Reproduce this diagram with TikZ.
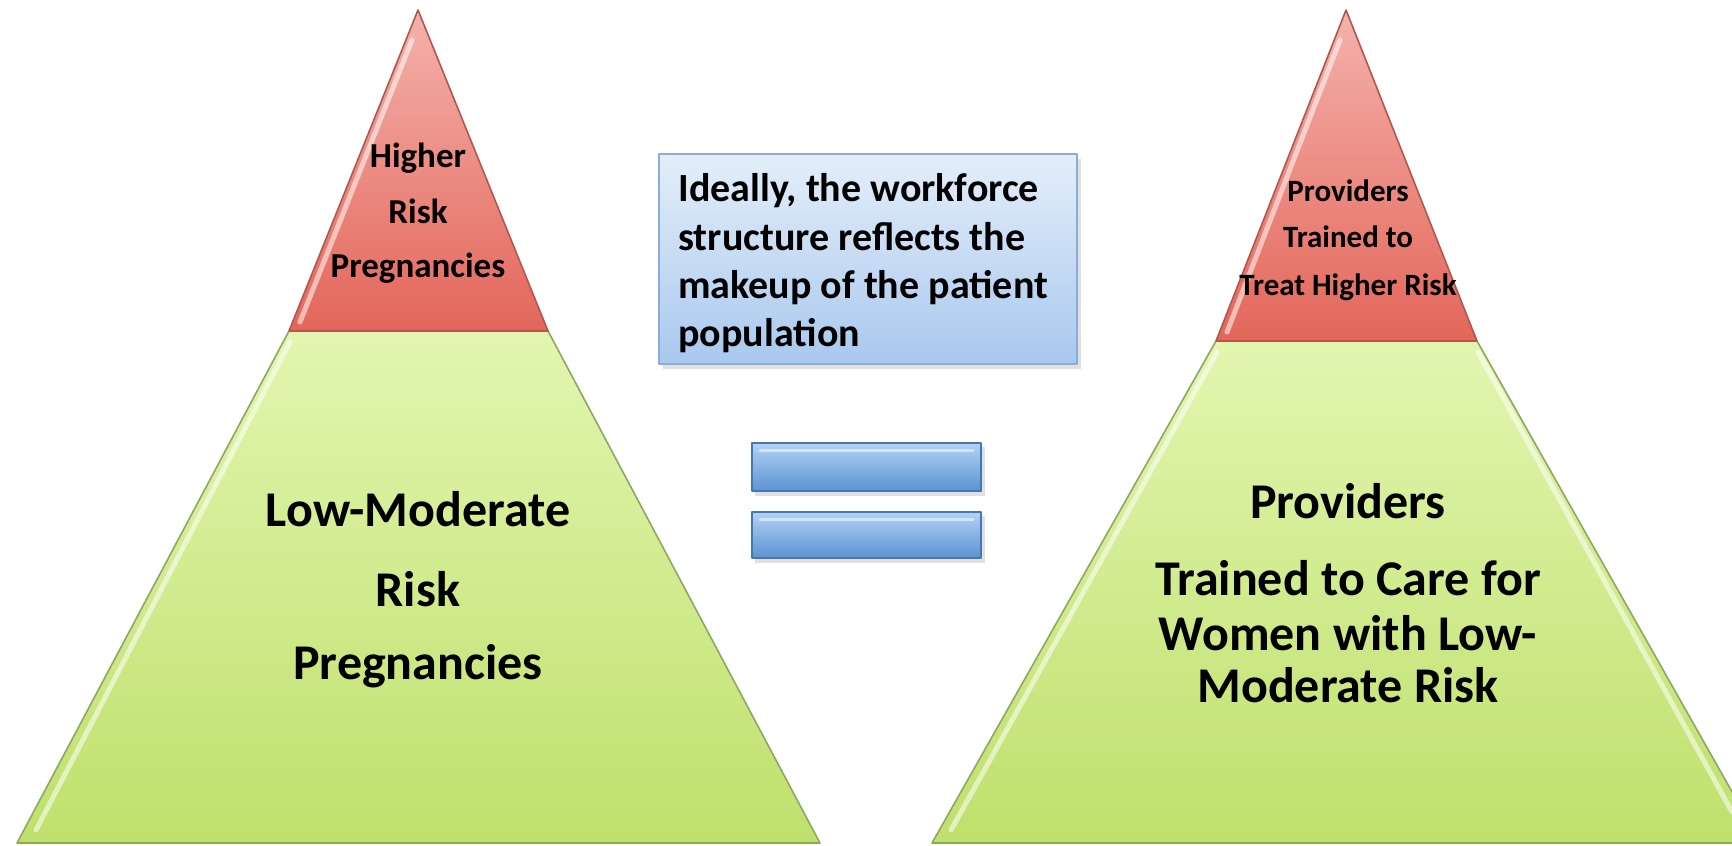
\documentclass[tikz,border=0pt]{standalone}
\usepackage{fontspec}
\setmainfont{Carlito}

\definecolor{redtop}{HTML}{F4B2AC}
\definecolor{redbot}{HTML}{E3665A}
\definecolor{redline}{HTML}{B0574E}
\definecolor{greentop}{HTML}{E2F6B0}
\definecolor{greenbot}{HTML}{BFE06C}
\definecolor{greenline}{HTML}{8FA861}
\definecolor{boxtop}{HTML}{E4EEFA}
\definecolor{boxbot}{HTML}{A9C8EE}
\definecolor{boxline}{HTML}{8AADD6}
\definecolor{bartop}{HTML}{B3D2F4}
\definecolor{barbot}{HTML}{5B93D3}
\definecolor{barline}{HTML}{4677B0}

\tikzset{
  redpart/.style={top color=redtop,bottom color=redbot,draw=redline,line width=0.8pt},
  greenpart/.style={top color=greentop,bottom color=greenbot,draw=greenline,line width=0.8pt},
  bevel/.style={white,opacity=0.55,line width=2.5pt,line cap=round},
  redtxt/.style={font=\fontsize{17.5}{20}\selectfont\bfseries,anchor=base,inner sep=0pt},
  smtxt/.style={font=\fontsize{15.5}{18}\selectfont\bfseries,anchor=base,inner sep=0pt},
  bigtxt/.style={font=\fontsize{25}{28}\selectfont\bfseries,anchor=base,inner sep=0pt},
  boxtxt/.style={font=\fontsize{20}{24}\selectfont\bfseries,anchor=base west,inner sep=0pt},
  eqbar/.style={top color=bartop,bottom color=barbot,draw=barline,line width=0.8pt},
  shadow/.style={fill=black,opacity=0.12}
}

\begin{document}
\begin{tikzpicture}[x=0.5pt,y=-0.5pt,line join=round]
\useasboundingbox (0,0) rectangle (1732,845);
\clip (0,0) rectangle (1732,845);

% left pyramid: patients
\path[greenpart] (289,331) -- (548,331) -- (820,843) -- (17,843) -- cycle;
\path[redpart] (418,10) -- (548,331) -- (289,331) -- cycle;
\draw[bevel] (300,322) -- (412,40);
\draw[bevel] (290,342) -- (36,830);

\node[redtxt] (lhA) at (418,168) {Higher};
\node[redtxt] (lhB) at (418,223) {Risk};
\node[redtxt] (lhC) at (418,277) {Pregnancies};

\node[bigtxt] (llA) at (418,526) {Low-Moderate};
\node[bigtxt] (llB) at (418,606) {Risk};
\node[bigtxt] (llC) at (418,679) {Pregnancies};

% right pyramid: providers
\path[greenpart] (1216,341) -- (1477,341) -- (1761,843) -- (932,843) -- cycle;
\path[redpart] (1346,10) -- (1477,341) -- (1216,341) -- cycle;
\draw[bevel] (1227,332) -- (1340,40);
\draw[bevel] (1217,352) -- (951,830);
\draw[bevel] (1478,352) -- (1732,812);

\node[smtxt] (rhA) at (1348,202) {Providers};
\node[smtxt] (rhB) at (1348,248) {Trained to};
\node[smtxt] (rhC) at (1348,295) {Treat Higher Risk};

\node[bigtxt] (rlA) at (1348,518) {Providers};
\node[bigtxt] (rlB) at (1348,595) {Trained to Care for};
\node[bigtxt] (rlC) at (1348,650) {Women with Low-};
\node[bigtxt] (rlD) at (1348,702) {Moderate Risk};

% note box
\fill[shadow] (663,159) rectangle (1081,369);
\path[top color=boxtop,bottom color=boxbot,draw=boxline,line width=0.8pt] (659,154) rectangle (1077,364);
\node[boxtxt] (nA) at (678,202) {Ideally, the workforce};
\node[boxtxt] (nB) at (678,250) {structure reflects the};
\node[boxtxt] (nC) at (678,298) {makeup of the patient};
\node[boxtxt] (nD) at (678,346) {population};

% equals sign
\fill[shadow] (755,447) rectangle (985,496);
\fill[shadow] (755,516) rectangle (985,563);
\path[eqbar] (752,443) rectangle (981,491);
\path[eqbar] (752,512) rectangle (981,558);
\draw[bevel,opacity=0.5,line width=1.5pt] (760,450) -- (973,450);
\draw[bevel,opacity=0.5,line width=1.5pt] (760,519) -- (973,519);
\end{tikzpicture}
\end{document}
